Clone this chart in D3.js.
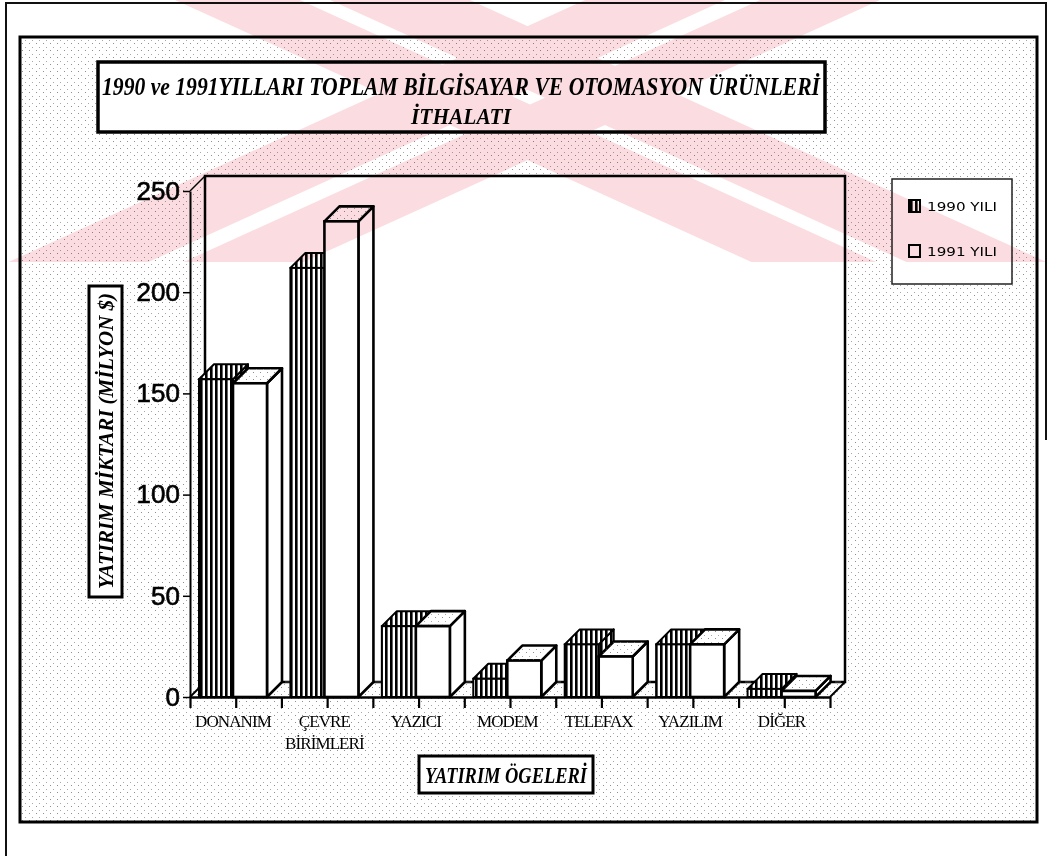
<!DOCTYPE html>
<html>
<head>
<meta charset="utf-8">
<script src="https://cdn.jsdelivr.net/npm/d3@7"></script>
<style>
  body { margin: 0; background: #fff; }
  svg { display: block; }
</style>
</head>
<body>
<script>
// data (million $)
var categories = [["DONANIM"], ["ÇEVRE", "BİRİMLERİ"], ["YAZICI"], ["MODEM"], ["TELEFAX"], ["YAZILIM"], ["DİĞER"]];
var values1990 = [157, 212, 35, 9, 26, 26, 4];
var values1991 = [155, 235, 35, 18, 20, 26, 3];
var yTicks = [0, 50, 100, 150, 200, 250];
var seriesNames = ["1990 YILI", "1991 YILI"];
var titleLines = ["1990 ve 1991YILLARI TOPLAM BİLGİSAYAR VE OTOMASYON ÜRÜNLERİ", "İTHALATI"];
var yTitle = "YATIRIM MİKTARI (MİLYON $)";
var xTitle = "YATIRIM ÖGELERİ";

var W = 1049, H = 856;
var svg = d3.select("body").append("svg").attr("width", W).attr("height", H);
var defs = svg.append("defs");

// sparse stipple like the scanned screen tone
var stip = defs.append("pattern").attr("id", "stip")
    .attr("patternUnits", "userSpaceOnUse").attr("width", 7).attr("height", 7);
stip.append("rect").attr("x", 1).attr("y", 1).attr("width", 1).attr("height", 1).attr("fill", "#909090");
stip.append("rect").attr("x", 4).attr("y", 5).attr("width", 1).attr("height", 1).attr("fill", "#a8a8a8");

// vertical hatching of the 1990 bars
var vs = defs.append("pattern").attr("id", "vstripe")
    .attr("patternUnits", "userSpaceOnUse").attr("width", 5).attr("height", 10);
vs.append("rect").attr("width", 5).attr("height", 10).attr("fill", "#fff");
vs.append("rect").attr("width", 2.6).attr("height", 10).attr("fill", "#000");

defs.append("clipPath").attr("id", "wmclip")
  .append("rect").attr("x", 0).attr("y", 0).attr("width", W).attr("height", 262);

// frames
svg.append("path").attr("d", "M6,856 V3 H1046 V440")
    .attr("fill", "none").attr("stroke", "#111").attr("stroke-width", 2);
svg.append("rect").attr("x", 20).attr("y", 37).attr("width", 1017).attr("height", 785)
    .attr("fill", "url(#stip)").attr("stroke", "#000").attr("stroke-width", 3);

// scales
var x = d3.scaleBand().domain(d3.range(categories.length)).range([190, 830]);
var xl = d3.scaleLinear().domain([0, categories.length]).range([190, 830]);
var y = d3.scaleLinear().domain([0, 250]).range([697, 191]);
var dx = 15, dy = 15, bw = 34;
var y0 = y(0);

// back wall and floor
var wall = svg.append("g");
wall.append("rect")
    .attr("x", x.range()[0] + dx).attr("y", y(250) - dy)
    .attr("width", x.range()[1] - x.range()[0]).attr("height", y0 - y(250))
    .attr("fill", "#fff").attr("stroke", "#000").attr("stroke-width", 2.5);
wall.append("rect")
    .attr("x", x.range()[0]).attr("y", y0 - dy + 1.5)
    .attr("width", x.range()[1] - x.range()[0] + dx).attr("height", dy - 1.5)
    .attr("fill", "url(#stip)");
wall.append("line")
    .attr("x1", x.range()[0] + dx).attr("x2", x.range()[1] + dx)
    .attr("y1", y0 - dy).attr("y2", y0 - dy)
    .attr("stroke", "#333").attr("stroke-width", 1.5).attr("stroke-dasharray", "6,4");
[x.range()[0], x.range()[1]].forEach(function(px) {
  wall.append("line").attr("x1", px).attr("y1", y0).attr("x2", px + dx).attr("y2", y0 - dy)
      .attr("stroke", "#000").attr("stroke-width", 2);
});
wall.append("line").attr("x1", x.range()[0]).attr("y1", y(250)).attr("x2", x.range()[0] + dx).attr("y2", y(250) - dy)
    .attr("stroke", "#000").attr("stroke-width", 1.5);

// 3d bars
function drawBar(g, left, v, fillFront, fillTop, fillSide, sw) {
  var top = y(v);
  g.append("polygon")
      .attr("points", [[left + bw, top], [left + bw + dx, top - dy], [left + bw + dx, y0 - dy], [left + bw, y0]].join(" "))
      .attr("fill", fillSide).attr("stroke", "#000").attr("stroke-width", sw).attr("stroke-linejoin", "round");
  g.append("polygon")
      .attr("points", [[left, top], [left + dx, top - dy], [left + bw + dx, top - dy], [left + bw, top]].join(" "))
      .attr("fill", fillTop).attr("stroke", "#000").attr("stroke-width", sw).attr("stroke-linejoin", "round");
  g.append("rect")
      .attr("x", left).attr("y", top).attr("width", bw).attr("height", y0 - top)
      .attr("fill", fillFront).attr("stroke", "#000").attr("stroke-width", sw);
}

var bars = svg.append("g");
categories.forEach(function(c, i) {
  var left0 = x(i) + 9, left1 = left0 + bw;
  drawBar(bars.append("g"), left0, values1990[i], "url(#vstripe)", "url(#vstripe)", "url(#vstripe)", 2);
  var g2 = bars.append("g");
  drawBar(g2, left1, values1991[i], "#fff", "#fff", "#fff", 2.6);
  var t = y(values1991[i]);
  g2.append("polygon")
      .attr("points", [[left1 + 2, t - 1], [left1 + dx, t - dy + 1], [left1 + bw + dx - 2, t - dy + 1], [left1 + bw, t - 1]].join(" "))
      .attr("fill", "url(#stip)");
});

// axes
var yAxis = svg.append("g").attr("transform", "translate(190,0)")
    .call(d3.axisLeft(y).tickValues(yTicks).tickSize(7).tickSizeOuter(0).tickPadding(3));
yAxis.select(".domain").attr("stroke", "#000").attr("stroke-width", 2);
yAxis.selectAll(".tick line").attr("stroke", "#000").attr("stroke-width", 1.5);
yAxis.selectAll(".tick text")
    .attr("font-family", "'Liberation Sans', Arial, sans-serif").attr("font-size", 26)
    .attr("fill", "#000").attr("stroke", "#000").attr("stroke-width", 0.6);

var xAxis = svg.append("g").attr("transform", "translate(0," + y0 + ")")
    .call(d3.axisBottom(xl).tickValues(d3.range(0, categories.length + 0.01, 0.5)).tickSize(11).tickSizeOuter(0).tickFormat(""));
xAxis.select(".domain").attr("stroke", "#000").attr("stroke-width", 2.5);
xAxis.selectAll(".tick line").attr("stroke", "#000").attr("stroke-width", 2.2);

// category labels
var cl = svg.append("g").attr("font-family", "'Liberation Serif', 'Times New Roman', serif")
    .attr("font-size", 17).attr("text-anchor", "middle").attr("fill", "#000");
categories.forEach(function(c, i) {
  c.forEach(function(line, k) {
    cl.append("text").attr("x", x(i) + 9 + bw).attr("y", 727 + k * 22)
        .attr("letter-spacing", -0.9).text(line);
  });
});

// title box
var serif = "'Liberation Serif', 'Times New Roman', serif";
var tb = svg.append("g");
tb.append("rect").attr("x", 98).attr("y", 62).attr("width", 727).attr("height", 70)
    .attr("fill", "#fff").attr("stroke", "#000").attr("stroke-width", 3.5);
tb.append("text").attr("x", 461).attr("y", 95).attr("text-anchor", "middle")
    .attr("font-family", serif).attr("font-style", "italic")
    .attr("font-weight", "bold").attr("font-size", 25)
    .attr("textLength", 718).attr("lengthAdjust", "spacingAndGlyphs").text(titleLines[0]);
tb.append("text").attr("x", 461).attr("y", 124).attr("text-anchor", "middle")
    .attr("font-family", serif).attr("font-style", "italic")
    .attr("font-weight", "bold").attr("font-size", 24)
    .attr("textLength", 100).attr("lengthAdjust", "spacingAndGlyphs").text(titleLines[1]);

// y title box
var yt = svg.append("g");
yt.append("rect").attr("x", 89).attr("y", 286).attr("width", 33).attr("height", 311)
    .attr("fill", "#fff").attr("stroke", "#000").attr("stroke-width", 3);
yt.append("text").attr("transform", "translate(113,441) rotate(-90)").attr("text-anchor", "middle")
    .attr("font-family", serif).attr("font-style", "italic")
    .attr("font-weight", "bold").attr("font-size", 22)
    .attr("textLength", 296).attr("lengthAdjust", "spacingAndGlyphs").text(yTitle);

// x title box
var xt = svg.append("g");
xt.append("rect").attr("x", 419).attr("y", 756).attr("width", 174).attr("height", 37)
    .attr("fill", "#fff").attr("stroke", "#000").attr("stroke-width", 3);
xt.append("text").attr("x", 506).attr("y", 783).attr("text-anchor", "middle")
    .attr("font-family", serif).attr("font-style", "italic")
    .attr("font-weight", "bold").attr("font-size", 23)
    .attr("textLength", 162).attr("lengthAdjust", "spacingAndGlyphs").text(xTitle);

// legend
var lg = svg.append("g");
lg.append("rect").attr("x", 892).attr("y", 179).attr("width", 120).attr("height", 105)
    .attr("fill", "#fff").attr("stroke", "#222").attr("stroke-width", 1.5);
seriesNames.forEach(function(name, i) {
  var ly = 200 + i * 45;
  lg.append("rect").attr("x", 909).attr("y", ly).attr("width", 11).attr("height", 12)
      .attr("fill", i === 0 ? "url(#vstripe)" : "#fff").attr("stroke", "#000").attr("stroke-width", 2);
  lg.append("text").attr("x", 927).attr("y", ly + 11)
      .attr("font-family", "'DejaVu Sans', Verdana, sans-serif").attr("font-size", 12)
      .attr("textLength", 70).attr("lengthAdjust", "spacingAndGlyphs").attr("fill", "#000").text(name);
});

// pink watermark of the scan (a striped X), multiplied over the page
var wm = svg.append("g").attr("clip-path", "url(#wmclip)").style("mix-blend-mode", "multiply");
var slope = 2.2, hh = 262;
// [left, right] at the top edge, and direction (+1 = "\", -1 = "/")
var wmStripes = [[175, 300, 1], [330, 470, 1], [585, 725, -1], [760, 880, -1]];
wmStripes.forEach(function(s) {
  var off = s[2] * slope * hh;
  wm.append("polygon")
      .attr("points", [[s[0], 0], [s[1], 0], [s[1] + off, hh], [s[0] + off, hh]].join(" "))
      .attr("fill", "#fbdde1");
});
</script>
</body>
</html>
